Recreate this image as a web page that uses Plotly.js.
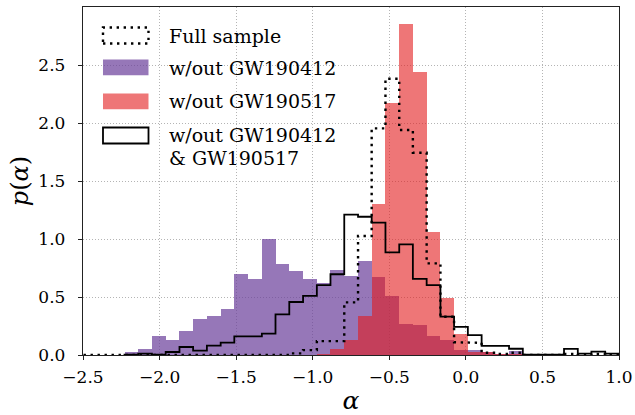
<!DOCTYPE html>
<html>
<head>
<meta charset="utf-8">
<script src="https://cdn.plot.ly/plotly-3.0.1.min.js"></script>
<style>
  html, body { margin: 0; padding: 0; background: #fff; }
  #chart { width: 635px; height: 415px; }
</style>
</head>
<body>
<div id="chart"></div>
<script>
// Shared histogram bin edges
const binEdges = [-2.588, -2.498, -2.408, -2.319,
  -2.229, -2.139, -2.050, -1.960, -1.870, -1.781, -1.691, -1.601, -1.512, -1.422,
  -1.332, -1.243, -1.153, -1.063, -0.973, -0.884, -0.794, -0.704, -0.615, -0.525,
  -0.435, -0.346, -0.256, -0.166, -0.077, 0.013, 0.103, 0.192, 0.282, 0.372,
  0.462, 0.551, 0.641, 0.731, 0.820, 0.910, 1.000];

// Full sample (dotted step)
const fullSample = [0, 0, 0, 0,
  0, 0, 0, 0, 0, 0, 0, 0, 0, 0,
  0, 0, 0.014, 0.042, 0.12, 0.12, 0.454, 1.026, 1.954, 2.382,
  1.94, 1.744, 0.79, 0.33, 0.11, 0.105, 0.02, 0.01, 0.02, 0,
  0, 0, 0.01, 0, 0.01, 0];

// w/out GW190412 (purple filled)
const noGW190412 = [null, null, null, null,
  0.022, 0.049, 0.164, 0.128, 0.204, 0.31, 0.333, 0.40, 0.696, 0.655,
  1.003, 0.784, 0.721, 0.655, 0.618, 0.733, 0.681, 0.81, 0.67, 0.51,
  0.267, 0.256, 0.166, 0.129, 0.045, 0.045, 0.03, 0.01, 0.035, 0,
  0, 0, 0, 0, 0, 0];

// w/out GW190517 (red filled)
const noGW190517 = [null, null, null, null,
  0, 0, 0, 0, 0, 0, 0, 0, 0, 0,
  0, 0, 0, 0, 0.01, 0.052, 0.132, 0.336, 1.30, 2.17,
  2.853, 2.443, 1.063, 0.494, 0.178, 0.025, 0.03, 0.01, 0.01, 0,
  0.008, 0.008, 0, 0, 0, 0];

// w/out GW190412 & GW190517 (black step)
const noBoth = [null, null, null, null,
  0.004, 0.012, 0.003, 0.026, 0.069, 0.037, 0.080, 0.106, 0.161, 0.161,
  0.184, 0.351, 0.457, 0.509, 0.603, 0.696, 1.21, 1.192, 1.141, 0.885,
  0.954, 0.656, 0.603, 0.33, 0.242, 0.172, 0.078, 0.078, 0.054, 0.003,
  0.003, 0.003, 0.053, 0.011, 0.029, 0.011];

const seriesNames = ["Full sample", "w/out GW190412", "w/out GW190517", "w/out GW190412", "&amp; GW190517"];

const xTickVals = [-2.5, -2.0, -1.5, -1.0, -0.5, 0.0, 0.5, 1.0];
const xTickText = ["\u22122.5", "\u22122.0", "\u22121.5", "\u22121.0", "\u22120.5", "0.0", "0.5", "1.0"];
const yTickVals = [0, 0.5, 1.0, 1.5, 2.0, 2.5];
const yTickText = ["0.0", "0.5", "1.0", "1.5", "2.0", "2.5"];

// ---- helpers ----
function barData(edges, vals) {
  const x = [], y = [], w = [];
  for (let i = 0; i < vals.length; i++) {
    if (vals[i] === null) continue;
    x.push((edges[i] + edges[i + 1]) / 2);
    w.push(edges[i + 1] - edges[i]);
    y.push(vals[i]);
  }
  return { x, y, w };
}
function stepData(edges, vals) {
  const xs = [], ys = [];
  let open = false;
  for (let i = 0; i < vals.length; i++) {
    const v = vals[i];
    if (v === null) {
      if (open) { xs.push(edges[i]); ys.push(0); xs.push(null); ys.push(null); open = false; }
      continue;
    }
    if (!open) { xs.push(edges[i]); ys.push(0); open = true; }
    xs.push(edges[i]); ys.push(v);
    xs.push(edges[i + 1]); ys.push(v);
  }
  if (open) { xs.push(edges[vals.length]); ys.push(0); }
  return { xs, ys };
}

const PURPLE = "rgba(106,61,154,0.7)";
const RED = "rgba(227,26,28,0.6)";
const FONT = "DejaVu Serif";

const pb = barData(binEdges, noGW190412);
const rb = barData(binEdges, noGW190517);
const fs = stepData(binEdges, fullSample);
const bs = stepData(binEdges, noBoth);

const traces = [
  { type: "bar", x: pb.x, y: pb.y, width: pb.w, name: seriesNames[1],
    marker: { color: PURPLE, line: { width: 0 } }, hoverinfo: "skip" },
  { type: "bar", x: rb.x, y: rb.y, width: rb.w, name: seriesNames[2],
    marker: { color: RED, line: { width: 0 } }, hoverinfo: "skip" },
  { type: "scatter", mode: "lines", x: fs.xs, y: fs.ys, name: seriesNames[0],
    line: { color: "#000", width: 2.4, dash: "2.4px,4.6px" }, connectgaps: false, hoverinfo: "skip" },
  { type: "scatter", mode: "lines", x: bs.xs, y: bs.ys, name: seriesNames[3],
    line: { color: "#000", width: 1.8 }, connectgaps: false, hoverinfo: "skip" }
];

// custom legend (handles in paper coordinates)
const hx0 = 0.0373, hx1 = 0.1222, tx = 0.1565;
const shapes = [
  { type: "rect", xref: "paper", yref: "paper", x0: hx0, x1: hx1, y0: 0.8949, y1: 0.9409,
    line: { color: "#000", width: 2.4, dash: "2.4px,4.6px" }, fillcolor: "rgba(0,0,0,0)" },
  { type: "rect", xref: "paper", yref: "paper", x0: hx0, x1: hx1, y0: 0.8039, y1: 0.8490,
    line: { width: 0 }, fillcolor: PURPLE },
  { type: "rect", xref: "paper", yref: "paper", x0: hx0, x1: hx1, y0: 0.7063, y1: 0.7514,
    line: { width: 0 }, fillcolor: RED },
  { type: "rect", xref: "paper", yref: "paper", x0: hx0, x1: hx1, y0: 0.6078, y1: 0.6538,
    line: { color: "#000", width: 1.8 }, fillcolor: "#fff" }
];
const legFont = { family: FONT, size: 19, color: "#000" };
const annYs = [0.9168, 0.8249, 0.7293, 0.6317, 0.5648];
const annotations = seriesNames.map((t, i) => ({
  xref: "paper", yref: "paper", x: tx, y: annYs[i], text: t, showarrow: false,
  xanchor: "left", yanchor: "middle", font: legFont
}));

const layout = {
  width: 635, height: 415,
  margin: { l: 83, r: 16, t: 7, b: 60, pad: 0 },
  paper_bgcolor: "#fff", plot_bgcolor: "#fff",
  barmode: "overlay", bargap: 0,
  showlegend: false,
  font: { family: FONT, size: 17, color: "#000" },
  xaxis: {
    range: [-2.5, 1.0], tickmode: "array", tickvals: xTickVals, ticktext: xTickText,
    showgrid: true, gridcolor: "#b4b4b4", gridwidth: 1, griddash: "1px,2px",
    zeroline: false, showline: true, mirror: true, linecolor: "#222", linewidth: 1.2,
    ticks: "outside", ticklen: 4, tickwidth: 1, tickcolor: "#222",
    ticklabelstandoff: 2,
    tickfont: { family: FONT, size: 17, color: "#000" },
    title: { text: "<i>α</i>", font: { family: FONT, size: 25, color: "#000" }, standoff: 6 },
    automargin: false
  },
  yaxis: {
    range: [0, 3.0], tickmode: "array", tickvals: yTickVals, ticktext: yTickText,
    showgrid: true, gridcolor: "#b4b4b4", gridwidth: 1, griddash: "1px,2px",
    zeroline: false, showline: true, mirror: true, linecolor: "#222", linewidth: 1.2,
    ticks: "outside", ticklen: 4, tickwidth: 1, tickcolor: "#222",
    ticklabelstandoff: 9,
    tickfont: { family: FONT, size: 17, color: "#000" },
    title: { text: "<i>p</i>(<i>α</i>)", font: { family: FONT, size: 24, color: "#000" }, standoff: 3 },
    automargin: false
  },
  shapes: shapes,
  annotations: annotations
};

Plotly.newPlot("chart", traces, layout, { staticPlot: true, displayModeBar: false });
</script>
</body>
</html>
